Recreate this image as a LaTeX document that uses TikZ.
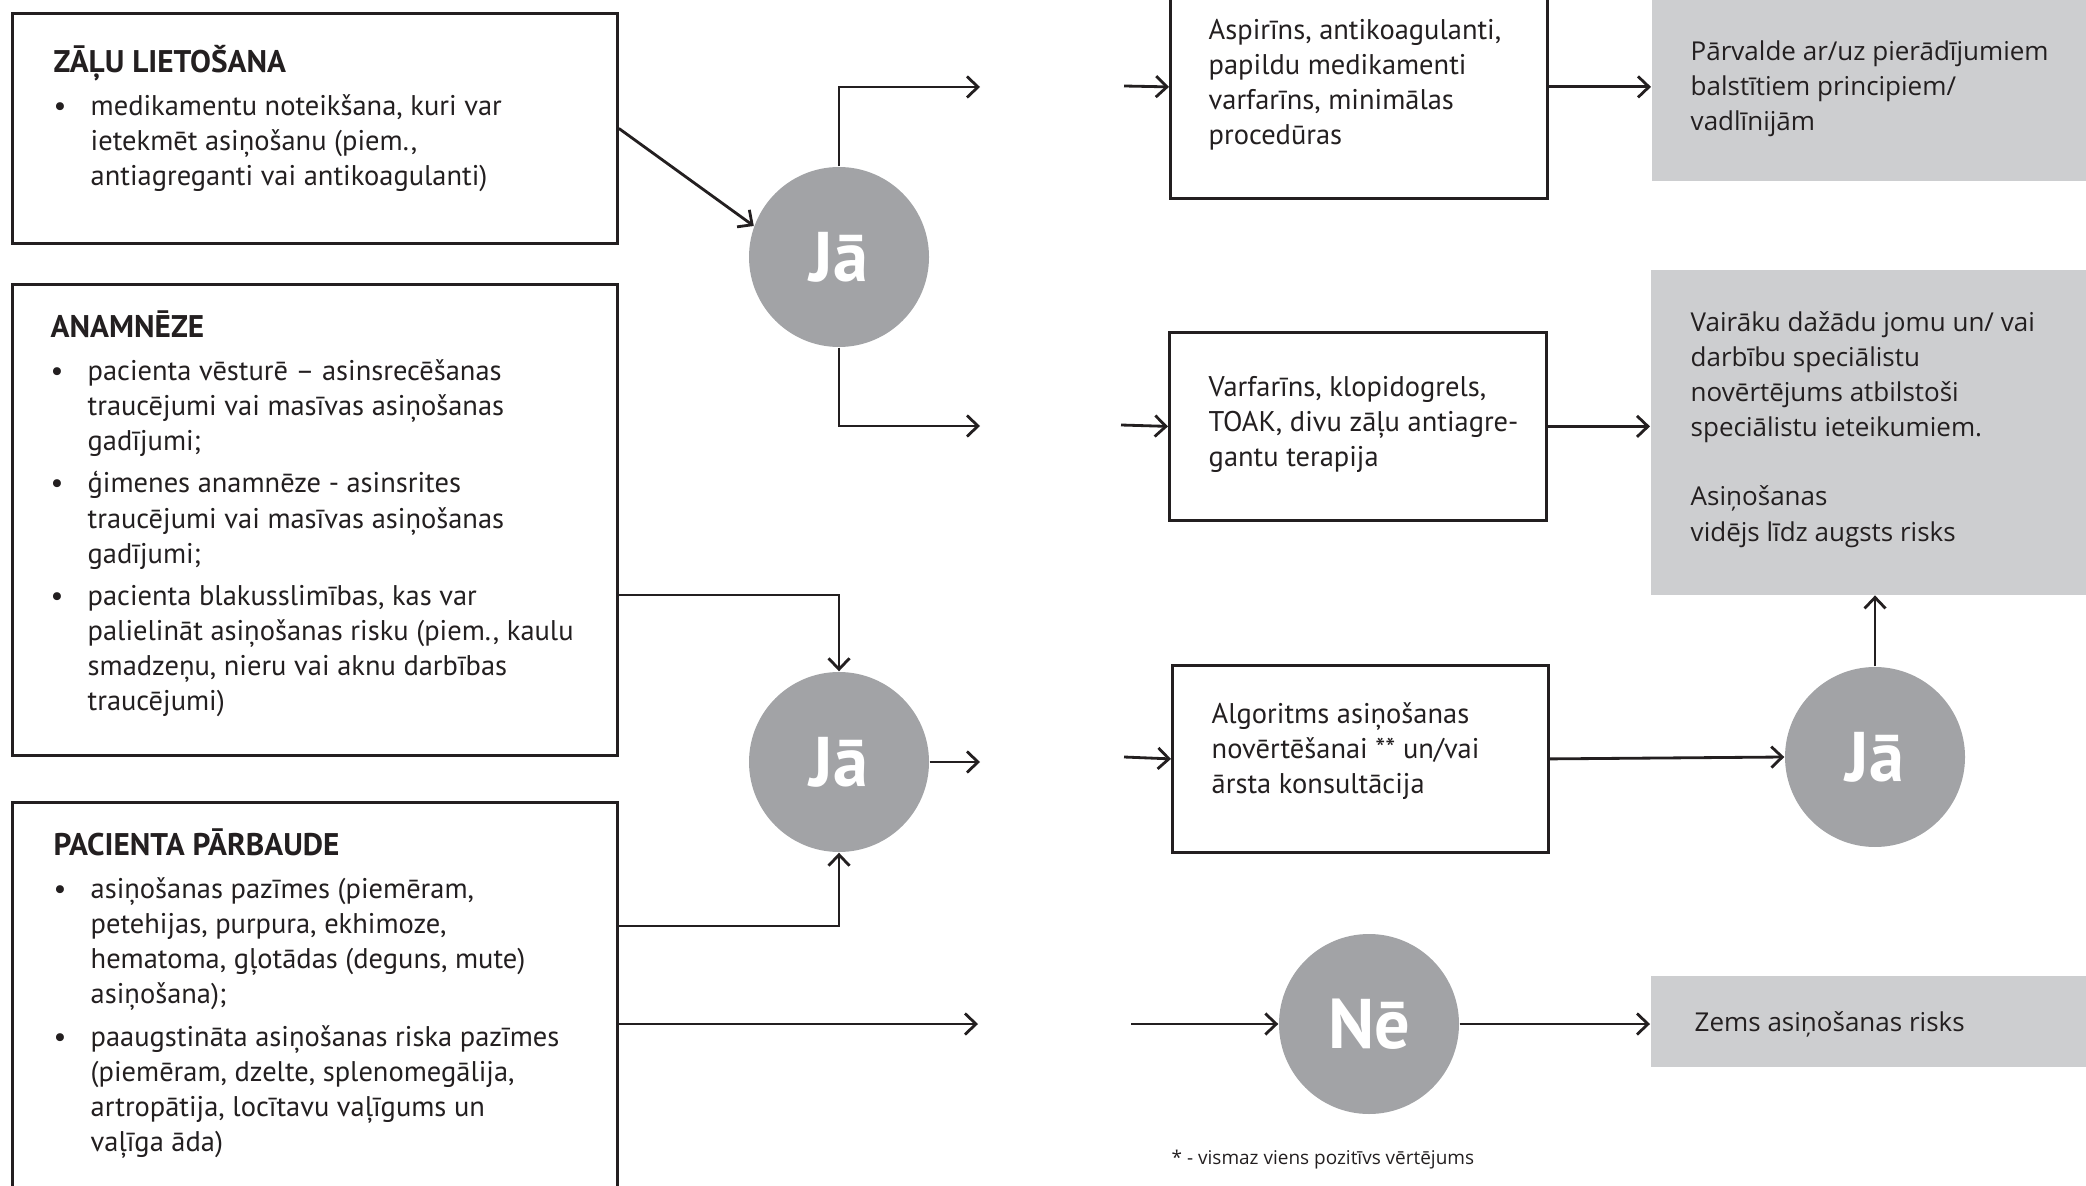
\documentclass[tikz,border=0pt]{standalone}
\usepackage{fontspec}
\setmainfont{PT Sans}
\newfontfamily\grauschrift{Open Sans}
\usetikzlibrary{arrows.meta, calc}

\definecolor{linienfarbe}{HTML}{231F20}
\definecolor{kreisfarbe}{HTML}{A2A3A6}
\definecolor{kastenfarbe}{HTML}{CDCED0}

\newcommand{\pkt}{\makebox[3.7mm][l]{•}}	% bullet
\newcommand{\einz}{\hspace*{3.7mm}}		% indent
\newcommand{\titel}[1]{{\bfseries\fontsize{8.9}{9.96}\selectfont #1}}	% box heading

\begin{document}
\begin{tikzpicture}[x=0.1mm, y=-0.1mm,
	kasten/.style={draw=linienfarbe, line width=0.8pt, anchor=north west, inner sep=0},
	grau/.style={fill=kastenfarbe, anchor=north west, inner sep=0},
	kreis/.style={circle, fill=kreisfarbe, minimum size=18mm, inner sep=0, text=white,
		font=\fontsize{20}{22}\selectfont\bfseries},
	txt/.style={anchor=north west, inner sep=0, align=left, text=linienfarbe,
		font=\fontsize{8.1}{9.96}\selectfont},
	grautxt/.style={txt, font=\grauschrift\fontsize{7.4}{10.0}\selectfont},
	pfeil/.style={draw=linienfarbe, line width=0.8pt, -{Straight Barb[length=1.1mm, width=2.1mm]}}]
	%\draw[help lines] (0,0) grid[step=100] (2086,1186);
	\useasboundingbox (0,0) rectangle (2086,1186);

	% left column
	\node[kasten, minimum width=60.5mm, minimum height=23mm] (zalu) at (11,12) {};
	\node[kasten, minimum width=60.5mm, minimum height=47.1mm] (anamneze) at (11,283) {};
	\node[kasten, minimum width=60.5mm, minimum height=45mm] (parbaude) at (11,801) {};	% runs off the page

	\node[txt] (zalutxt) at (53,45) {\strut\titel{ZĀĻU LIETOŠANA}\\[0.8mm]
		\pkt medikamentu noteikšana, kuri var\\
		\einz ietekmēt asiņošanu (piem.,\\
		\einz antiagreganti vai antikoagulanti)};
	\node[txt] (anamtxt) at (50,310) {\strut\titel{ANAMNĒZE}\\[0.8mm]
		\pkt pacienta vēsturē – asinsrecēšanas\\
		\einz traucējumi vai masīvas asiņošanas\\
		\einz gadījumi;\\[0.75mm]
		\pkt ģimenes anamnēze - asinsrites\\
		\einz traucējumi vai masīvas asiņošanas\\
		\einz gadījumi;\\[0.75mm]
		\pkt pacienta blakusslimības, kas var\\
		\einz palielināt asiņošanas risku (piem., kaulu\\
		\einz smadzeņu, nieru vai aknu darbības\\
		\einz traucējumi)};
	\node[txt] (parbtxt) at (53,828) {\strut\titel{PACIENTA PĀRBAUDE}\\[0.8mm]
		\pkt asiņošanas pazīmes (piemēram,\\
		\einz petehijas, purpura, ekhimoze,\\
		\einz hematoma, gļotādas (deguns, mute)\\
		\einz asiņošana);\\[0.75mm]
		\pkt paaugstināta asiņošanas riska pazīmes\\
		\einz (piemēram, dzelte, splenomegālija,\\
		\einz artropātija, locītavu vaļīgums un\\
		\einz vaļīga āda)};

	% decisions
	\node[kreis] (ja1) at (839,257) {Jā};
	\node[kreis] (ja2) at (839,762) {Jā};
	\node[kreis] (ja3) at (1875,757) {Jā};
	\node[kreis] (ne) at (1369,1024) {Nē};

	% middle column
	\node[kasten, minimum width=37.7mm, minimum height=22.3mm] (aspirins) at (1169,-26) {};
	\node[kasten, minimum width=37.7mm, minimum height=18.8mm] (varfarins) at (1168,331) {};
	\node[kasten, minimum width=37.6mm, minimum height=18.7mm] (algoritms) at (1171,664) {};

	\node[txt] (aspirinstxt) at (1208,14) {\strut Aspirīns, antikoagulanti,\\
		papildu medikamenti\\ varfarīns, minimālas\\ procedūras};
	\node[txt] (varfarinstxt) at (1208,371) {\strut Varfarīns, klopidogrels,\\
		TOAK, divu zāļu antiagre-\\ gantu terapija};
	\node[txt] (algoritmstxt) at (1211,698) {\strut Algoritms asiņošanas\\
		novērtēšanai ** un/vai\\ ārsta konsultācija};

	% right column
	\node[grau, minimum width=45mm, minimum height=18.5mm] (parvalde) at (1651,-5) {};
	\node[grau, minimum width=45mm, minimum height=32.5mm] (vairaku) at (1650,269) {};
	\node[grau, minimum width=45mm, minimum height=9.1mm] (zems) at (1650,975) {};

	\node[grautxt] (parvaldetxt) at (1690,35) {\strut Pārvalde ar/uz pierādījumiem\\
		balstītiem principiem/\\ vadlīnijām};
	\node[grautxt] (vairakutxt) at (1690,306) {\strut Vairāku dažādu jomu un/ vai\\
		darbību speciālistu\\ novērtējums atbilstoši\\ speciālistu ieteikumiem.\\[3.4mm]
		Asiņošanas\\ vidējs līdz augsts risks};
	\node[grautxt, anchor=base west] (zemstxt) at (1694,1031) {Zems asiņošanas risks};

	\node[anchor=base west, inner sep=0, text=linienfarbe,
		font=\grauschrift\fontsize{5.4}{6.5}\selectfont] (piezime) at (1171,1164)
		{* - vismaz viens pozitīvs vērtējums};

	% free arrow ends
	\coordinate (a1) at (980,87);
	\coordinate (b1) at (1124,86);
	\coordinate (a2) at (980,426);
	\coordinate (b2) at (1121,425);
	\coordinate (a3) at (980,762);
	\coordinate (b3) at (1124,757);
	\coordinate (a4) at (978,1024);
	\coordinate (b4) at (1131,1024);

	% arrows
	\draw[pfeil] (zalu.east) -- (ja1.160);
	\draw[pfeil] (ja1.north) |- (a1);
	\draw[pfeil] (b1) -- (aspirins.west);
	\draw[pfeil] (ja1.south) |- (a2);
	\draw[pfeil] (b2) -- (varfarins.west);
	\draw[pfeil] (aspirins.east) -- (aspirins.east -| parvalde.west);
	\draw[pfeil] (varfarins.east) -- (varfarins.east -| vairaku.west);

	\draw[pfeil] ($(anamneze.north east)+(0,312)$) -| (ja2.north);
	\draw[pfeil] ($(parbaude.north east)+(0,125)$) -| (ja2.south);
	\draw[pfeil] (ja2.east) -- (a3);
	\draw[pfeil] (b3) -- (algoritms.west);
	\draw[pfeil] (algoritms.east) -- (ja3.west);
	\draw[pfeil] (ja3.north) -- (ja3.north |- vairaku.south);

	\draw[pfeil] ($(parbaude.north east)+(0,223)$) -- (a4);
	\draw[pfeil] (b4) -- (ne.west);
	\draw[pfeil] (ne.east) -- (ne.east -| zems.west);

\end{tikzpicture}
\end{document}
